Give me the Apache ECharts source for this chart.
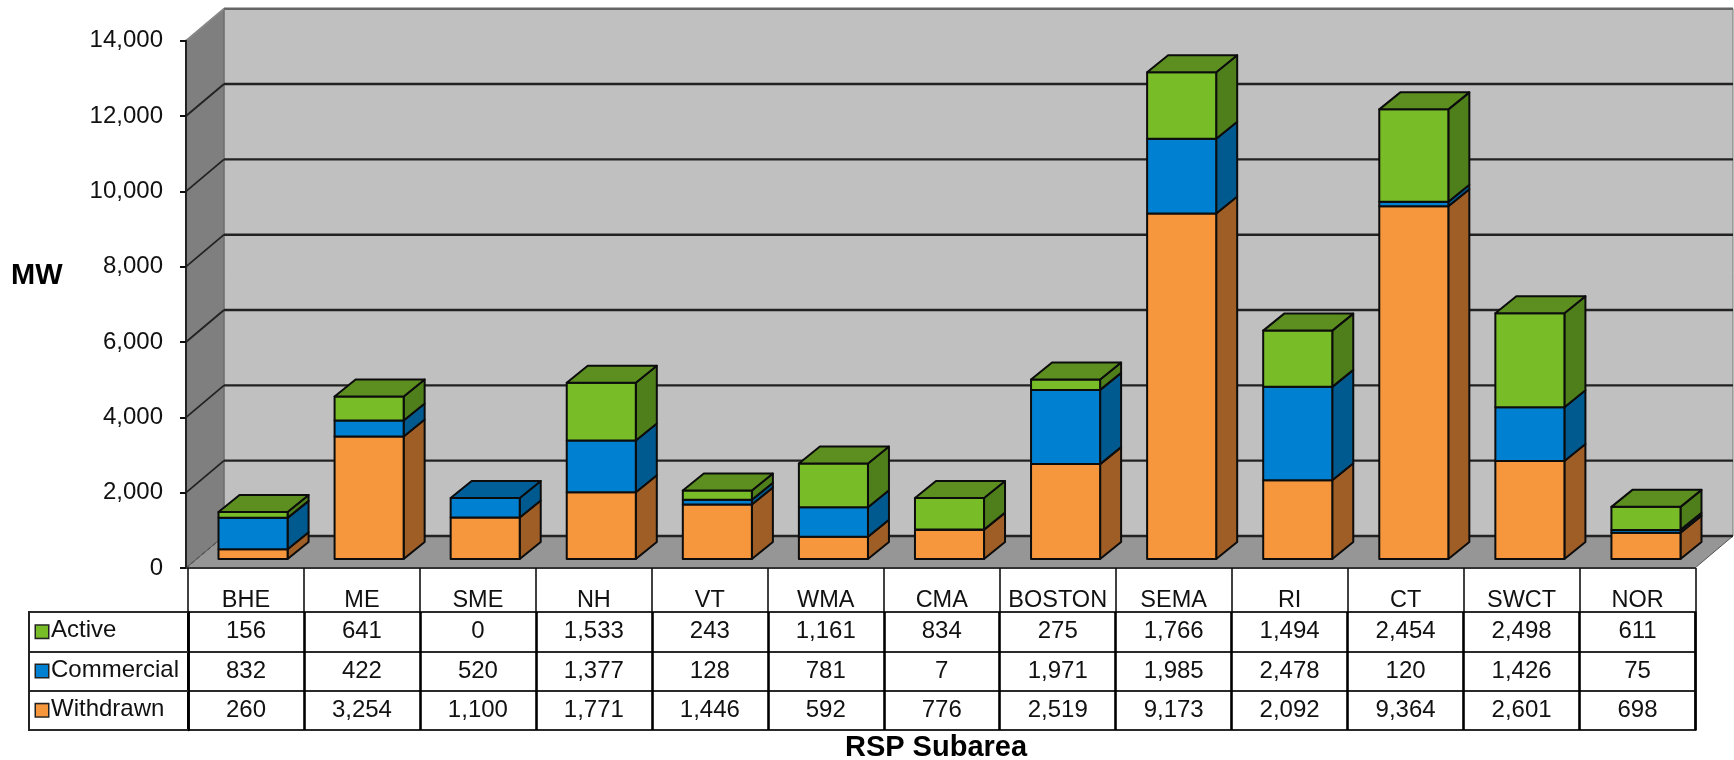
<!DOCTYPE html>
<html>
<head>
<meta charset="utf-8">
<style>html,body{margin:0;padding:0;background:#fff}#c{width:1734px;height:760px}</style>
<script src="https://cdn.jsdelivr.net/npm/echarts@6/dist/echarts.min.js"></script>
</head>
<body>
<div id="c"></div>
<script>
const categories = ['BHE','ME','SME','NH','VT','WMA','CMA','BOSTON','SEMA','RI','CT','SWCT','NOR'];
const active     = [156,641,0,1533,243,1161,834,275,1766,1494,2454,2498,611];
const commercial = [832,422,520,1377,128,781,7,1971,1985,2478,120,1426,75];
const withdrawn  = [260,3254,1100,1771,1446,592,776,2519,9173,2092,9364,2601,698];
const rowNames   = ['Active','Commercial','Withdrawn'];
const yTicks     = [0,2000,4000,6000,8000,10000,12000,14000];

const FONT = '"Liberation Sans", Arial, sans-serif';
const INK = '#111';
const WALL = {dx:38, dy:32};
const BAR = {shift:9, dx:21, dy:17, ratio:0.595};
const colors = {
  Active:{front:'#78BC28', side:'#4F7F1B', top:'#5C8F20'},
  Commercial:{front:'#0080D0', side:'#005A90', top:'#005F99'},
  Withdrawn:{front:'#F6963D', side:'#9E5E26', top:'#9E5E26'}
};
const fmt = v => v.toLocaleString('en-US');

// stack order, bottom first
const stack = [['Withdrawn',withdrawn],['Commercial',commercial],['Active',active]];
function segments(level){
  return categories.map((c,i)=>{
    let base = 0;
    for(let l=0;l<level;l++) base += stack[l][1][i];
    const top = base + stack[level][1][i];
    let above = 0;
    for(let l=level+1;l<stack.length;l++) above += stack[l][1][i];
    return [i,base,top,above===0?1:0];
  });
}
function barItem(name){
  const col = colors[name];
  return function(params,api){
    const i = api.value(0), b = api.value(1), t = api.value(2), isTop = api.value(3);
    if(t===b) return {type:'group',children:[]};
    const w = api.size([1,0])[0]*BAR.ratio;
    const p0 = api.coord([i,b]), p1 = api.coord([i,t]);
    const xl = p0[0]+BAR.shift-w/2, xr = xl+w;
    const y0 = p0[1]-BAR.shift, y1 = p1[1]-BAR.shift;
    const line = {stroke:'#0c0c0c',lineWidth:2,lineJoin:'round'};
    const kids = [
      {type:'polygon',shape:{points:[[xr,y0],[xr+BAR.dx,y0-BAR.dy],[xr+BAR.dx,y1-BAR.dy],[xr,y1]]},style:Object.assign({fill:col.side},line)},
      {type:'rect',shape:{x:xl,y:y1,width:w,height:y0-y1},style:Object.assign({fill:col.front},line)}
    ];
    if(isTop) kids.push({type:'polygon',shape:{points:[[xl,y1],[xr,y1],[xr+BAR.dx,y1-BAR.dy],[xl+BAR.dx,y1-BAR.dy]]},style:Object.assign({fill:col.top},line)});
    return {type:'group',children:kids};
  };
}
function frameItem(params,api){
  const g = params.coordSys, L = g.x, R = g.x+g.width, B = g.y+g.height, T = g.y;
  const dx = WALL.dx, dy = WALL.dy, kids = [];
  kids.push({type:'rect',shape:{x:L+dx,y:T-dy,width:g.width,height:g.height},style:{fill:'#C0C0C0',stroke:'#777',lineWidth:1}});
  kids.push({type:'polygon',shape:{points:[[L,B],[L+dx,B-dy],[L+dx,T-dy],[L,T]]},style:{fill:'#7F7F7F',stroke:'#666',lineWidth:1}});
  kids.push({type:'polygon',shape:{points:[[L,B],[R,B],[R+dx,B-dy],[L+dx,B-dy]]},style:{fill:'#969696',stroke:'#555',lineWidth:1}});
  yTicks.forEach(v=>{
    const y = api.coord([0,v])[1];
    const strong = v===14000 ? '#666' : '#222';
    kids.push({type:'line',shape:{x1:L+dx,y1:y-dy,x2:R+dx,y2:y-dy},style:{stroke:strong,lineWidth:2.4}});
    if(v>0) kids.push({type:'line',shape:{x1:L,y1:y,x2:L+dx,y2:y-dy},style:{stroke:v===14000?'#888':'#222',lineWidth:1.8}});
    else kids.push({type:'line',shape:{x1:L,y1:y,x2:L+dx,y2:y-dy},style:{stroke:'#555',lineWidth:1.2,lineDash:[4,3]}});
  });
  return {type:'group',children:kids};
}
const tableData = [];
[active,commercial,withdrawn].forEach((arr,r)=>arr.forEach((v,c)=>tableData.push([c,r,v])));
const keyRich = {t:{fontFamily:FONT,fontSize:24,color:INK,padding:[0,0,2,3]}};
rowNames.forEach(n=>{
  keyRich['k'+n] = {width:12,height:12,backgroundColor:colors[n].front,borderColor:'#222',borderWidth:1.5};
});

const chart = echarts.init(document.getElementById('c'),null,{renderer:'canvas'});
chart.setOption({
  animation:false,
  backgroundColor:'#fff',
  title:[
    {text:'MW',left:11,top:261,padding:0,textStyle:{fontFamily:FONT,fontSize:29,fontWeight:'bold',color:'#000'}},
    {text:'RSP Subarea',left:936,top:733,padding:0,textAlign:'center',textStyle:{fontFamily:FONT,fontSize:29,fontWeight:'bold',color:'#000'}}
  ],
  grid:[
    {left:186,top:40.7,width:1509,height:527.3,containLabel:false},
    {left:188,top:612,width:1507.5,height:118,show:true,borderColor:INK,borderWidth:2,backgroundColor:'transparent'}
  ],
  xAxis:[
    {gridIndex:0,type:'category',data:categories,axisLabel:{show:false},axisTick:{show:false},
     axisLine:{lineStyle:{color:'#333',width:2}},splitLine:{show:false},z:5},
    {gridIndex:1,type:'category',position:'top',data:categories,
     axisLabel:{fontFamily:FONT,fontSize:23.5,color:INK,margin:-1,interval:0},
     axisLine:{show:false},
     axisTick:{show:true,length:44,lineStyle:{color:INK,width:1.6}},
     splitLine:{show:true,interval:0,lineStyle:{color:'#000',width:2.6}},z:5}
  ],
  yAxis:[
    {gridIndex:0,type:'value',min:0,max:14000,interval:2000,
     axisLabel:{fontFamily:FONT,fontSize:24,color:INK,margin:23,formatter:v=>fmt(v)},
     axisLine:{show:true,lineStyle:{color:'#222',width:2}},
     axisTick:{show:true,length:6,lineStyle:{color:'#111',width:2}},
     splitLine:{show:false},z:5},
    {gridIndex:1,type:'category',inverse:true,data:rowNames,
     axisLabel:{align:'left',margin:152,interval:0,formatter:v=>'{k'+v+'|}{t|'+v+'}',rich:keyRich},
     axisLine:{show:true,lineStyle:{color:'#000',width:2.6}},
     axisTick:{show:true,length:159,lineStyle:{color:'#2a2a2a',width:2}},
     splitLine:{show:true,interval:0,lineStyle:{color:'#2a2a2a',width:2}},z:5}
  ],
  graphic:[
    {type:'line',z:20,shape:{x1:29,y1:611,x2:29,y2:731},style:{stroke:'#222',lineWidth:2}}
  ],
  series:[
    {type:'custom',name:'frame',xAxisIndex:0,yAxisIndex:0,z:1,silent:true,data:[[0,0]],encode:{x:0,y:1},renderItem:frameItem},
    ...stack.map((s,l)=>({
      type:'custom',name:s[0],xAxisIndex:0,yAxisIndex:0,z:3+l,silent:true,
      data:segments(l),encode:{x:0,y:[1,2]},renderItem:barItem(s[0])
    })),
    {type:'custom',name:'table',xAxisIndex:1,yAxisIndex:1,z:6,silent:true,data:tableData,encode:{x:0,y:1},
     renderItem:(p,api)=>{
       const c = api.coord([api.value(0),api.value(1)]);
       return {type:'text',x:c[0],y:c[1],style:{text:fmt(api.value(2)),fill:INK,font:'24px '+FONT,align:'center',verticalAlign:'middle'}};
     }}
  ]
});
</script>
</body>
</html>
